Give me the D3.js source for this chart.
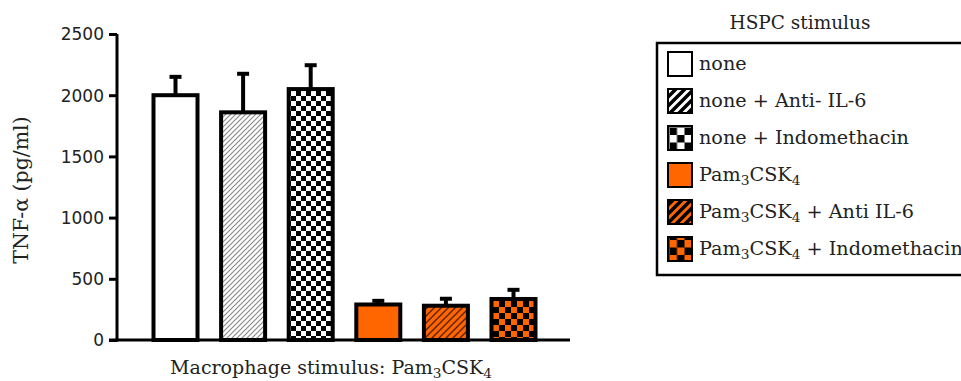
<!DOCTYPE html>
<html>
<head>
<meta charset="utf-8">
<script src="https://cdn.jsdelivr.net/npm/d3@7"></script>
<style>
  html, body { margin: 0; padding: 0; background: #fff; }
  svg { display: block; }
</style>
</head>
<body>
<svg id="chart" width="961" height="381"></svg>
<script>
// TNF-α release by macrophages stimulated with Pam3CSK4, grouped by HSPC stimulus
const groups = ["none", "none + Anti- IL-6", "none + Indomethacin",
                "Pam3CSK4", "Pam3CSK4 + Anti IL-6", "Pam3CSK4 + Indomethacin"];
const means = [2000, 1860, 2050, 290, 280, 335];
const sems  = [150, 315, 195, 30, 57, 75];
const yTicks = [0, 500, 1000, 1500, 2000, 2500];
const fills = ["plain-white", "hatch-grey", "check-bw", "plain-orange", "hatch-orange", "check-orange"];
const legendFills = ["plain-white", "lg-stripe-bw", "lg-check-bw", "plain-orange", "lg-stripe-orange", "lg-check-orange"];

const ORANGE = "#ff6600";
const svg = d3.select("#chart");
const defs = svg.append("defs");

// ---- fill patterns ----
function hatch(id, bg, line, size, width) {
  const p = defs.append("pattern").attr("id", id).attr("patternUnits", "userSpaceOnUse")
    .attr("width", size).attr("height", size);
  p.append("rect").attr("width", size).attr("height", size).attr("fill", bg);
  p.append("path")
    .attr("d", `M${-size / 2},${size / 2} L${size / 2},${-size / 2} M0,${size} L${size},0 M${size / 2},${size * 1.5} L${size * 1.5},${size / 2}`)
    .attr("stroke", line).attr("stroke-width", width);
}
function checker(id, a, b, cell, x0 = 0, y0 = 0) {
  const p = defs.append("pattern").attr("id", id).attr("patternUnits", "userSpaceOnUse")
    .attr("width", cell * 2).attr("height", cell * 2).attr("x", x0).attr("y", y0);
  p.append("rect").attr("width", cell * 2).attr("height", cell * 2).attr("fill", a);
  p.append("rect").attr("x", cell).attr("width", cell).attr("height", cell).attr("fill", b);
  p.append("rect").attr("y", cell).attr("width", cell).attr("height", cell).attr("fill", b);
}
function solid(id, c) {
  const p = defs.append("pattern").attr("id", id).attr("patternUnits", "userSpaceOnUse")
    .attr("width", 4).attr("height", 4);
  p.append("rect").attr("width", 4).attr("height", 4).attr("fill", c);
}
solid("plain-white", "#fff");
solid("plain-orange", ORANGE);
hatch("hatch-grey", "#fff", "#8a8a8a", 5, 1.2);
checker("check-bw", "#fff", "#000", 5, 1, 1);
hatch("hatch-orange", ORANGE, "#5a2000", 7, 1.4);
checker("check-orange", ORANGE, "#000", 6, 1, 1);
hatch("lg-stripe-bw", "#fff", "#000", 9, 3.5);
hatch("lg-stripe-orange", ORANGE, "#000", 9, 3.5);
checker("lg-check-bw", "#fff", "#000", 7.5, 669.5, 0);
checker("lg-check-orange", ORANGE, "#000", 7.5, 669.5, 0);

// ---- scales ----
const x = d3.scaleBand().domain(groups).range([117, 572]).paddingInner(0.349).paddingOuter(0.54);
const y = d3.scaleLinear().domain([0, 2500]).range([340, 34]);

// ---- y axis ----
const yAxis = svg.append("g").attr("transform", "translate(117,0)")
  .call(d3.axisLeft(y).tickValues(yTicks).tickSize(8).tickPadding(5).tickFormat(d3.format("d")));
yAxis.select(".domain").attr("stroke", "#000").attr("stroke-width", 3)
  .attr("d", `M0,${y(2500)}V${y(0) + 1.5}`);
yAxis.selectAll(".tick line").attr("stroke", "#000").attr("stroke-width", 3);
yAxis.selectAll(".tick text").attr("font-family", "DejaVu Sans").attr("font-size", 17)
  .attr("fill", "#222").attr("dy", "0.35em");

// ---- x baseline ----
const xAxis = svg.append("g").attr("transform", `translate(0,${y(0)})`)
  .call(d3.axisBottom(x).tickSize(0).tickFormat(""));
xAxis.select(".domain").attr("stroke", "#000").attr("stroke-width", 3).attr("d", "M109,0H570");
xAxis.selectAll(".tick").remove();

// ---- error bars (upward only) ----
const err = svg.append("g");
groups.forEach((g, i) => {
  const cx = x(g) + x.bandwidth() / 2;
  err.append("line").attr("x1", cx).attr("x2", cx)
    .attr("y1", y(means[i])).attr("y2", y(means[i] + sems[i]))
    .attr("stroke", "#000").attr("stroke-width", 4);
  err.append("line").attr("x1", cx - 6).attr("x2", cx + 6)
    .attr("y1", y(means[i] + sems[i])).attr("y2", y(means[i] + sems[i]))
    .attr("stroke", "#000").attr("stroke-width", 4);
});

// ---- bars ----
svg.append("g").selectAll("rect").data(groups).join("rect")
  .attr("x", d => x(d))
  .attr("y", (d, i) => y(means[i]))
  .attr("width", x.bandwidth())
  .attr("height", (d, i) => y(0) - y(means[i]))
  .attr("fill", (d, i) => `url(#${fills[i]})`)
  .attr("stroke", "#000").attr("stroke-width", 4);

// ---- axis titles ----
const serif = "DejaVu Serif";
// writes "Pam3CSK4" with subscript digits; the next run is shifted back to the baseline
function withSubs(sel, label, size) {
  const shift = size * 0.22;
  let pending = 0;
  const run = (txt, small) => {
    const dy = (small ? shift : 0) + pending;
    const t = sel.append("tspan").text(txt);
    if (dy) t.attr("dy", dy);
    if (small) t.attr("font-size", size * 0.72);
    pending = small ? -shift : 0;
  };
  label.split(/(Pam3CSK4)/).forEach(p => {
    if (p === "Pam3CSK4") {
      run("Pam"); run("3", true); run("CSK"); run("4", true);
    } else if (p) {
      run(p);
    }
  });
}

const xt = svg.append("text").attr("x", 331).attr("y", 374).attr("text-anchor", "middle")
  .attr("font-family", serif).attr("font-size", 19).attr("fill", "#222");
withSubs(xt, "Macrophage stimulus: Pam3CSK4", 19);

svg.append("text").attr("transform", "translate(28,190) rotate(-90)")
  .attr("text-anchor", "middle").attr("font-family", serif).attr("font-size", 20.5)
  .attr("fill", "#222").text("TNF-α (pg/ml)");

// ---- legend ----
svg.append("text").attr("x", 800).attr("y", 29).attr("text-anchor", "middle")
  .attr("font-family", serif).attr("font-size", 18.5).attr("fill", "#222").text("HSPC stimulus");

svg.append("rect").attr("x", 657).attr("y", 43).attr("width", 330).attr("height", 232)
  .attr("fill", "none").attr("stroke", "#000").attr("stroke-width", 2.5);

const rowY = d3.scaleLinear().domain([0, 5]).range([64, 249]);
const lg = svg.append("g");
groups.forEach((g, i) => {
  const cy = rowY(i);
  lg.append("rect").attr("x", 668).attr("y", cy - 12).attr("width", 24).attr("height", 24)
    .attr("fill", `url(#${legendFills[i]})`).attr("stroke", "#000").attr("stroke-width", 2);
  const t = lg.append("text").attr("x", 699).attr("y", cy + 6)
    .attr("font-family", serif).attr("font-size", 19.2).attr("fill", "#222");
  withSubs(t, g, 19.2);
});
</script>
</body>
</html>
